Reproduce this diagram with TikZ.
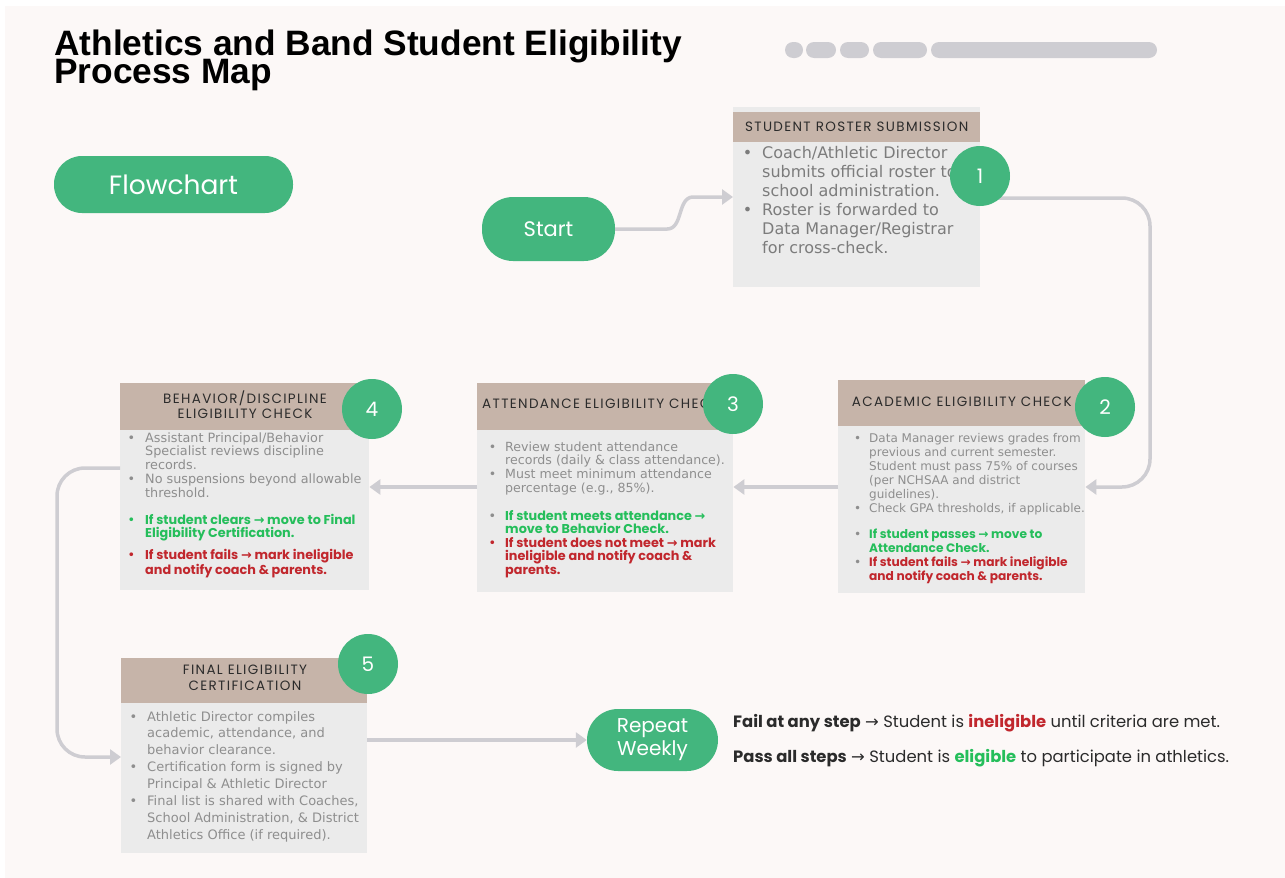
\documentclass[tikz,border=0pt]{standalone}
\usepackage{fontspec}
\usetikzlibrary{arrows.meta,calc}
\setmainfont{DejaVu Sans}
\newfontfamily\titlefont{Liberation Sans}
\newfontfamily\popfont{Poppins}
\newfontfamily\hdfont[LetterSpace=10]{Poppins}
\newfontfamily\bodyfont{DejaVu Sans}
\definecolor{bgpanel}{HTML}{FCF8F7}
\definecolor{boxgrey}{HTML}{EBEBEB}
\definecolor{tan}{HTML}{C6B4A9}
\definecolor{pillgreen}{HTML}{43B67E}
\definecolor{connc}{HTML}{CECDD2}
\definecolor{greytxt}{HTML}{8E8E8E}
\definecolor{rostertxt}{HTML}{7C7C7C}
\definecolor{okgreen}{HTML}{25BE5B}
\definecolor{badred}{HTML}{C1272D}
\definecolor{hdtxt}{HTML}{2B2B2B}
\newcommand\arw{{\bodyfont\bfseries →}}
\newcommand\bul[2][9pt]{\makebox[0pt][r]{\textcolor{#2}{\bodyfont\mdseries •}\hspace{#1}}}
\tikzset{
  x=1pt, y=-1pt,
  greybox/.style={fill=boxgrey, draw=none, inner sep=0pt, anchor=north west},
  hdband/.style={fill=tan, draw=none, inner sep=0pt, anchor=north west},
  hdtext/.style={font=\hdfont\fontsize{13.5}{15.5}\selectfont, text=hdtxt, align=center, inner sep=0pt},
  pill/.style={fill=pillgreen, draw=none, rounded corners=28pt, inner sep=0pt, text=white},
  numcirc/.style={circle, fill=pillgreen, draw=none, minimum size=60pt, inner sep=0pt, text=white, font=\popfont\fontsize{20}{24}\selectfont},
  conn/.style={draw=connc, line width=3.5pt, -{Triangle[length=11pt,width=15pt]}},
  txt/.style={anchor=base west, inner sep=0pt}
}
\begin{document}
\begin{tikzpicture}
\useasboundingbox (0,0) rectangle (1285,878);
\fill[white] (0,0) rectangle (1285,878);
\fill[bgpanel] (5,6) rectangle (1285,878);

% title
\node[anchor=base west, inner sep=0pt, align=left, font=\titlefont\bfseries\fontsize{35.3}{28}\selectfont] (title) at (54,83) {Athletics and Band Student Eligibility\\[-5pt]Process Map};

% top right bars
\begin{scope}[fill=connc]
\fill[rounded corners=8pt] (785,42) rectangle (803,58);
\fill[rounded corners=8pt] (806,42) rectangle (836,58);
\fill[rounded corners=8pt] (840,42) rectangle (869,58);
\fill[rounded corners=8pt] (873,42) rectangle (927,58);
\fill[rounded corners=8pt] (931,42) rectangle (1157,58);
\end{scope}

% pills
\node[pill, minimum width=239pt, minimum height=57pt, font=\popfont\fontsize{26.5}{30}\selectfont] (flow) at (173.5,184.5) {Flowchart};
\node[pill, rounded corners=31pt, minimum width=133pt, minimum height=64pt, font=\popfont\fontsize{21}{25}\selectfont] (start) at (548.5,229) {Start};
\node[pill, rounded corners=31pt, minimum width=131pt, minimum height=62pt, align=center, font=\popfont\fontsize{20}{23}\selectfont] (repeat) at (652.5,740) {Repeat\\Weekly};

% ---- boxes
\node[greybox, minimum width=247pt, minimum height=180pt] (roster) at (733,107) {};
\node[hdband, minimum width=247pt, minimum height=30pt] (rosterhd) at (733,112) {};
\node[hdtext] (rosterhdt) at (rosterhd.center) {STUDENT ROSTER SUBMISSION};

\node[greybox, minimum width=247pt, minimum height=213pt] (acad) at (838,380) {};
\node[hdband, minimum width=247pt, minimum height=46pt] (acadhd) at (838,380) {};
\node[hdtext] (acadhdt) at ([yshift=1pt]acadhd.center) {ACADEMIC ELIGIBILITY CHECK};

\node[greybox, minimum width=256pt, minimum height=209pt] (att) at (477,383) {};
\node[hdband, minimum width=256pt, minimum height=47pt] (atthd) at (477,383) {};
\node[hdtext, anchor=west] (atthdt) at (482,404) {ATTENDANCE ELIGIBILITY CHECK};

\node[greybox, minimum width=249pt, minimum height=207pt] (beh) at (120,383) {};
\node[hdband, minimum width=249pt, minimum height=47pt] (behhd) at (120,383) {};
\node[hdtext] (behhdt) at (245,404.5) {BEHAVIOR/DISCIPLINE\\ELIGIBILITY CHECK};

\node[greybox, minimum width=246pt, minimum height=195pt] (fin) at (121,658) {};
\node[hdband, minimum width=246pt, minimum height=45pt] (finhd) at (121,658) {};
\node[hdtext] (finhdt) at (245,678) {FINAL ELIGIBILITY\\CERTIFICATION};

% ---- body texts
\node[txt] (rostertx) at (762,158) {\parbox[t]{220pt}{\raggedright\bodyfont\fontsize{16}{19}\selectfont\leavevmode\color{rostertxt}%
\bul[10pt]{rostertxt}Coach/Athletic Director\\
submits official roster to\\
school administration.\\
\bul[10pt]{rostertxt}Roster is forwarded to\\
Data Manager/Registrar\\
for cross-check.}};

\node[txt] (acadtx) at (869,442) {\parbox[t]{230pt}{\raggedright\bodyfont\fontsize{12}{14}\selectfont\leavevmode\color{greytxt}%
\bul[8pt]{greytxt}Data Manager reviews grades from\\
previous and current semester.\\
Student must pass 75\% of courses\\
(per NCHSAA and district\\
guidelines).\\
\bul[8pt]{greytxt}Check GPA thresholds, if applicable.}};
\node[txt] (acadtx2) at (869,538) {\parbox[t]{230pt}{\raggedright\popfont\bfseries\fontsize{12.2}{14.3}\selectfont\leavevmode\color{okgreen}%
\bul[8pt]{greytxt}If student passes \arw{} move to\\
Attendance Check.\\
\color{badred}\bul[8pt]{greytxt}If student fails \arw{} mark ineligible\\
and notify coach \& parents.}};

\node[txt] (atttx) at (505,451) {\parbox[t]{240pt}{\raggedright\bodyfont\fontsize{12.6}{13.7}\selectfont\leavevmode\color{greytxt}%
\bul[9pt]{greytxt}Review student attendance\\
records (daily \& class attendance).\\
\bul[9pt]{greytxt}Must meet minimum attendance\\
percentage (e.g., 85\%).}};
\node[txt] (atttx2) at (505,520) {\parbox[t]{240pt}{\raggedright\popfont\bfseries\fontsize{12.8}{13.5}\selectfont\leavevmode\color{okgreen}%
\bul[9pt]{greytxt}If student meets attendance \arw\\
move to Behavior Check.\\
\color{badred}\bul[9pt]{badred}If student does not meet \arw{} mark\\
ineligible and notify coach \&\\
parents.}};

\node[txt] (behtx) at (145,442) {\parbox[t]{240pt}{\raggedright\bodyfont\fontsize{12.8}{13.75}\selectfont\leavevmode\color{greytxt}%
\bul[10pt]{greytxt}Assistant Principal/Behavior\\
Specialist reviews discipline\\
records.\\
\bul[10pt]{greytxt}No suspensions beyond allowable\\
threshold.}};
\node[txt] (behtx2) at (145,524) {\parbox[t]{240pt}{\raggedright\popfont\bfseries\fontsize{12.8}{13.5}\selectfont\leavevmode\color{okgreen}%
\bul[10pt]{okgreen}If student clears \arw{} move to Final\\
Eligibility Certification.\\[7.5pt]
\color{badred}\bul[10pt]{badred}If student fails \arw{} mark ineligible\\
and notify coach \& parents.}};

\node[txt] (fintx) at (147,721) {\parbox[t]{240pt}{\raggedright\bodyfont\fontsize{13}{16.9}\selectfont\leavevmode\color{greytxt}%
\bul[10pt]{greytxt}Athletic Director compiles\\
academic, attendance, and\\
behavior clearance.\\
\bul[10pt]{greytxt}Certification form is signed by\\
Principal \& Athletic Director\\
\bul[10pt]{greytxt}Final list is shared with Coaches,\\
School Administration, \& District\\
Athletics Office (if required).}};

% bottom notes
\node[txt, font=\popfont\fontsize{16.4}{19}\selectfont, text=hdtxt] (note1) at (733,727) {\textbf{Fail at any step} {\bodyfont →} Student is \textcolor{badred}{\textbf{ineligible}} until criteria are met.};
\node[txt, font=\popfont\fontsize{16.4}{19}\selectfont, text=hdtxt] (note2) at (733,762) {\textbf{Pass all steps} {\bodyfont →} Student is \textcolor{okgreen}{\textbf{eligible}} to participate in athletics.};

% ---- connectors
\draw[conn] (start.east) -- ++(52,0) .. controls +(16,0) and +(-16,0) .. ++(26,-32) -- (roster.west |- 0,197);
\draw[conn, rounded corners=28pt] ([yshift=-22pt]980,176) -- (1150,198) -- (1150,487) -- (acad.east |- 0,487);
\draw[conn] (acad.west |- 0,487) -- (att.east |- 0,487);
\draw[conn] (att.west |- 0,487) -- (beh.east |- 0,487);
\draw[conn, rounded corners=28pt] (beh.west |- 0,468) -- (57,468) -- (57,757) -- (fin.west |- 0,757);
\draw[conn] (fin.east |- 0,740) -- (repeat.west);

% ---- number circles
\node[numcirc] (c1) at (980,176) {1};
\node[numcirc] (c2) at (1105,407) {2};
\node[numcirc] (c3) at (733,404) {3};
\node[numcirc] (c4) at (372,409) {4};
\node[numcirc] (c5) at (368,664) {5};
\end{tikzpicture}
\end{document}
